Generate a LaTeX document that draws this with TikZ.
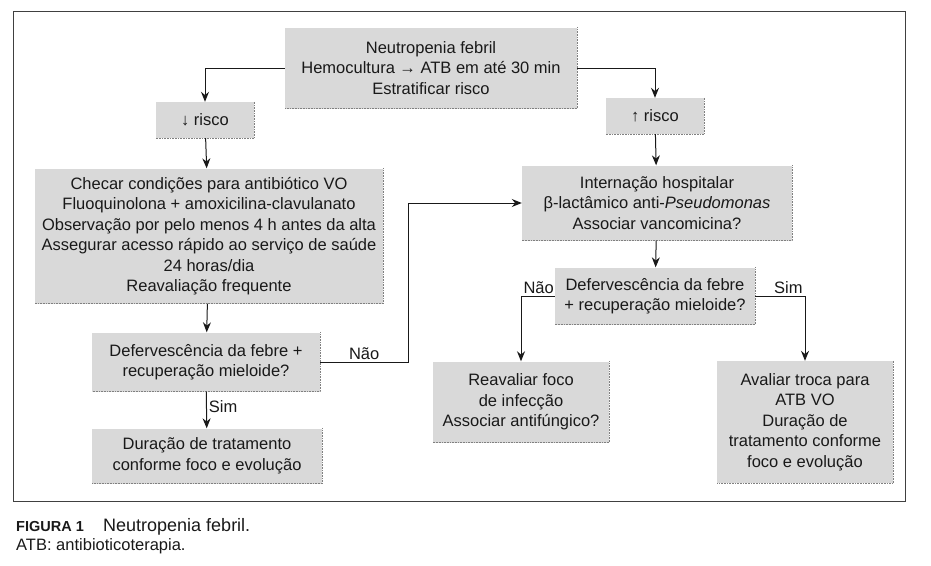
\documentclass[tikz,border=0pt]{standalone}
\usepackage{fontspec}
\setmainfont{Liberation Sans}
\usetikzlibrary{arrows.meta,positioning}

\newcommand{\boxfont}{\fontsize{16.5}{20.5}\selectfont}
\tikzset{
  box/.style={fill=black!15, align=center, inner sep=0pt, text=black!90},
  arr/.style={-{Stealth[length=10pt,width=8pt]}, line width=1pt, black!90},
  lbl/.style={inner sep=2pt, text=black!90}
}

\begin{document}
\begin{tikzpicture}[x=1pt,y=-1pt,font=\boxfont]
  \useasboundingbox (0,0) rectangle (931,565);

  % Frame
  \draw[black!75, line width=0.8pt] (13,11) rectangle (905,501);

  % Top
  \node[box, minimum width=292pt, minimum height=81pt] (top) at (431,68)
    {Neutropenia febril\\ Hemocultura \textrightarrow\ ATB em até 30 min\\ Estratificar risco};

  % Low risk branch
  \node[box, minimum width=98pt, minimum height=36pt] (lorisk) at (205,120) {↓ risco};
  \node[box, minimum width=348pt, minimum height=135pt] (lowbox) at (209,236)
    {Checar condições para antibiótico VO\\ Fluoquinolona + amoxicilina-clavulanato\\
     Observação por pelo menos 4 h antes da alta\\ Assegurar acesso rápido ao serviço de saúde\\
     24 horas/dia\\ Reavaliação frequente};
  \node[box, minimum width=228pt, minimum height=59pt] (lowdec) at (206,362)
    {Defervescência da febre +\\ recuperação mieloide?};
  \node[box, minimum width=230pt, minimum height=55pt] (lowend) at (207,456)
    {Duração de tratamento\\ conforme foco e evolução};

  % High risk branch
  \node[box, minimum width=98pt, minimum height=36pt] (hirisk) at (655,116) {↑ risco};
  \node[box, minimum width=270pt, minimum height=75pt] (hosp) at (657,203)
    {Internação hospitalar\\ β-lactâmico anti-\textit{Pseudomonas}\\ Associar vancomicina?};
  \node[box, minimum width=200pt, minimum height=57pt] (hidec) at (655,296)
    {Defervescência da febre\\ + recuperação mieloide?};
  \node[box, minimum width=176pt, minimum height=81pt] (reav) at (521,402)
    {Reavaliar foco\\ de infecção\\ Associar antifúngico?};
  \node[box, minimum width=176pt, minimum height=122pt] (aval) at (805,422)
    {Avaliar troca para\\ ATB VO\\ Duração de\\ tratamento conforme\\ foco e evolução};

  % Dotted edges of the boxes
  \foreach \n in {top,lorisk,lowbox,lowdec,lowend,hirisk,hosp,hidec,reav,aval} {
    \draw[black!50, densely dotted, line width=0.6pt] (\n.north east) |- (\n.south west);
  }

  % Connectors
  \draw[arr] (top.west) -| (lorisk.north);
  \draw[arr] (top.east) -| (hirisk.north);
  \draw[arr] (lorisk) -- (lowbox);
  \draw[arr] (lowbox) -- (lowdec);
  \draw[arr] (lowdec) -- node[lbl, right, pos=0.4] {Sim} (lowend);
  \draw[arr] (lowdec.east) -- node[lbl, above] {Não} ++(88,0) |- (hosp.west);
  \draw[arr] (hirisk) -- (hosp);
  \draw[arr] (hosp) -- (hidec);
  \draw[arr] (hidec.west) -| node[lbl, pos=0.5, above right] {Não} (reav.north);
  \draw[arr] (hidec.east) -| node[lbl, pos=0.5, above left] {Sim} (aval.north);

  % Caption
  \node[anchor=base west, inner sep=0pt, text=black!90] (fig) at (16,531)
    {\fontsize{14.5}{16}\selectfont\bfseries FIGURA 1};
  \node[anchor=base west, inner sep=0pt, text=black!90] (cap) at (103,531)
    {\fontsize{18}{20}\selectfont Neutropenia febril.};
  \node[anchor=base west, inner sep=0pt, text=black!90] (abbr) at (16,550)
    {\fontsize{16.5}{18}\selectfont ATB: antibioticoterapia.};
\end{tikzpicture}
\end{document}
